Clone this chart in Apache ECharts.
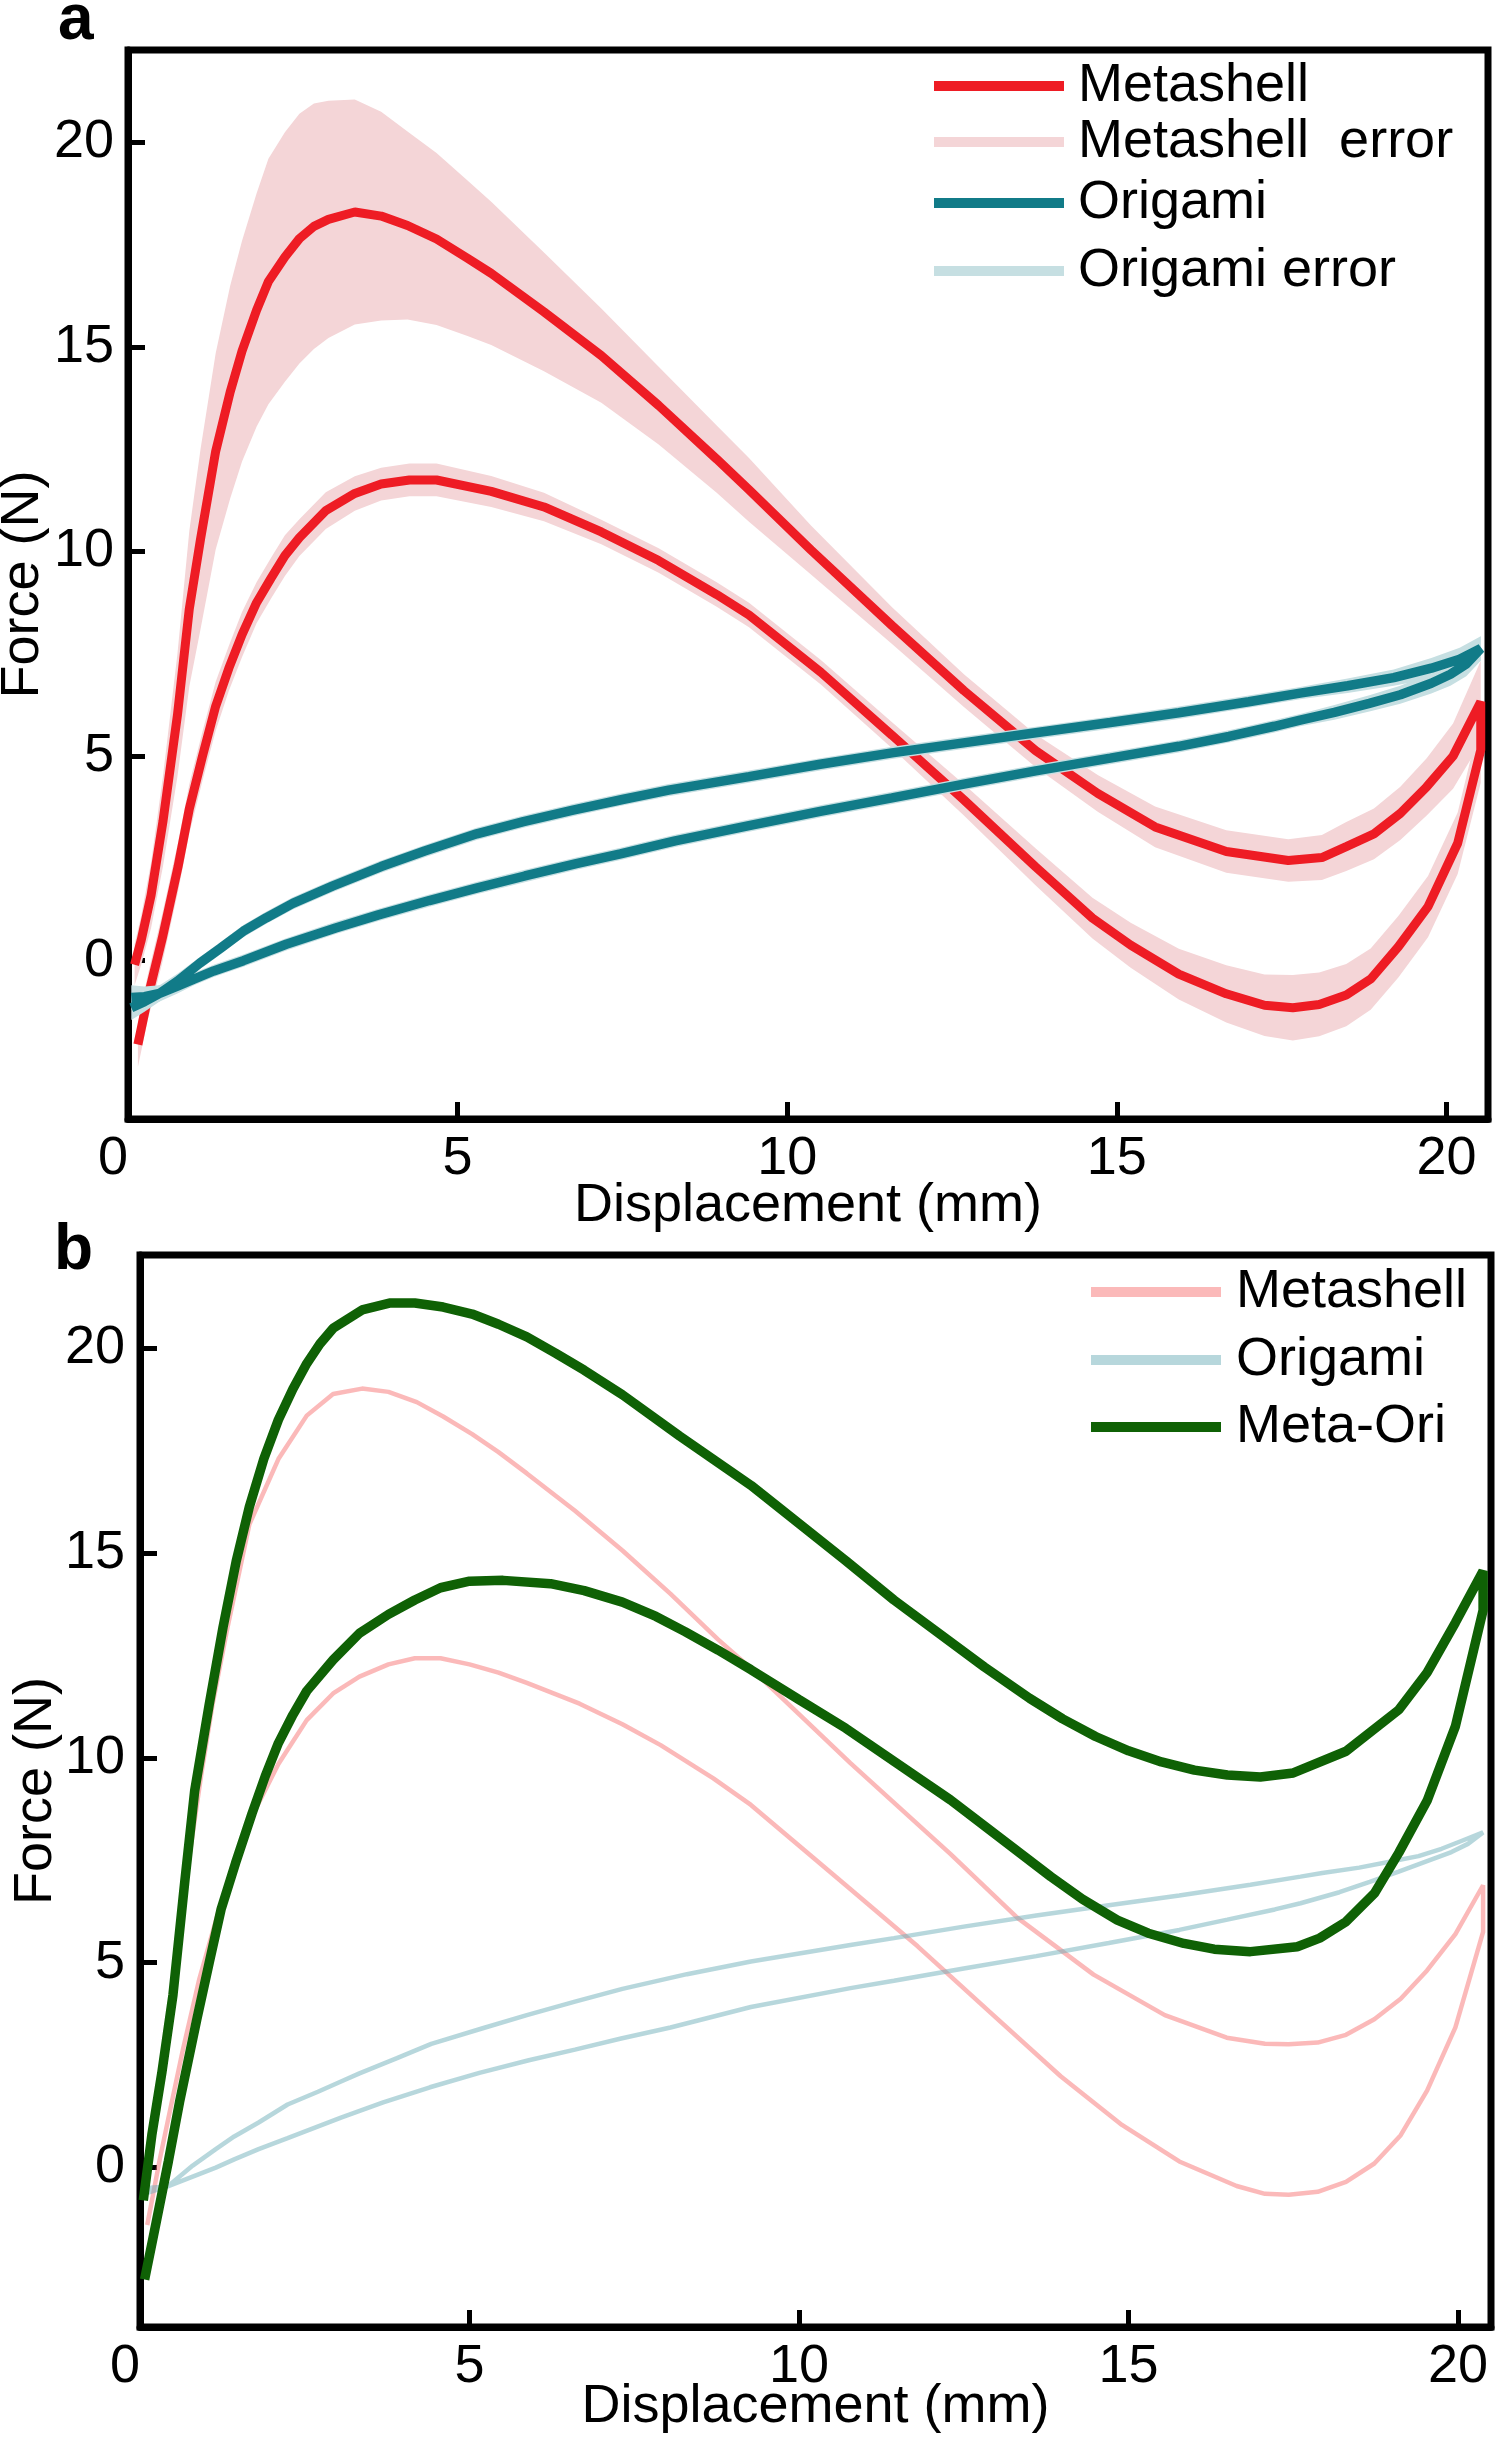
<!DOCTYPE html>
<html>
<head>
<meta charset="utf-8">
<title>Force - displacement</title>
<script src="https://cdn.jsdelivr.net/npm/echarts@6/dist/echarts.min.js"></script>
<style>
  html, body { margin: 0; padding: 0; background: #fff; }
  #chart { width: 1497px; height: 2437px; }
</style>
</head>
<body>
<div id="chart"></div>
<script>
// ---- panel a : Metashell (mean + error) ----
const aMetaLoadX = [0.1, 0.2, 0.35, 0.53, 0.75, 0.93, 1.1, 1.33, 1.55, 1.73, 1.95, 2.13, 2.38, 2.6, 2.82, 3.04, 3.44, 3.84, 4.24, 4.68, 5.15, 5.51, 6.31, 7.18, 8.05, 8.93, 9.42, 10.36, 11.59, 12.68, 13.77, 14.71, 15.58, 16.66, 17.6, 18.11, 18.48, 18.9, 19.3, 19.7, 20.1, 20.52];
const aMetaLoadF = [-0.1, 0.5, 1.6, 3.4, 6.0, 8.6, 10.3, 12.45, 13.9, 14.9, 15.9, 16.6, 17.2, 17.65, 17.95, 18.12, 18.3, 18.2, 17.97, 17.64, 17.17, 16.8, 15.86, 14.79, 13.57, 12.26, 11.51, 10.04, 8.19, 6.6, 5.13, 4.09, 3.27, 2.67, 2.45, 2.52, 2.79, 3.1, 3.6, 4.25, 5.0, 6.33];
const aMetaLoadErr = [0.5, 0.6, 0.8, 1.1, 1.5, 1.9, 2.2, 2.4, 2.6, 2.7, 2.85, 3.0, 3.05, 3.05, 3.0, 2.9, 2.75, 2.55, 2.3, 2.1, 1.9, 1.75, 1.45, 1.15, 0.95, 0.82, 0.78, 0.6, 0.45, 0.4, 0.4, 0.45, 0.5, 0.52, 0.52, 0.55, 0.6, 0.62, 0.65, 0.7, 0.8, 1.0];

const aMetaUnloadX = [0.15, 0.3, 0.52, 0.76, 0.93, 1.13, 1.33, 1.53, 1.73, 1.95, 2.17, 2.38, 2.6, 3.0, 3.44, 3.84, 4.27, 4.68, 5.51, 6.31, 7.18, 8.05, 8.93, 9.42, 10.51, 11.59, 12.68, 13.77, 14.63, 15.21, 15.94, 16.66, 17.24, 17.67, 18.07, 18.48, 18.85, 19.27, 19.72, 20.17, 20.52];
const aMetaUnloadF = [-2.05, -0.9, 0.55, 2.3, 3.71, 5.0, 6.22, 7.15, 7.97, 8.75, 9.35, 9.9, 10.34, 11.0, 11.42, 11.65, 11.75, 11.75, 11.47, 11.09, 10.48, 9.78, 8.95, 8.45, 7.05, 5.51, 3.93, 2.29, 1.04, 0.38, -0.33, -0.81, -1.09, -1.15, -1.07, -0.84, -0.45, 0.34, 1.32, 2.87, 5.15];
const aMetaUnloadErr = [0.55, 0.55, 0.6, 0.6, 0.6, 0.6, 0.6, 0.55, 0.55, 0.5, 0.5, 0.5, 0.45, 0.45, 0.42, 0.4, 0.4, 0.4, 0.38, 0.35, 0.3, 0.3, 0.3, 0.3, 0.3, 0.32, 0.38, 0.45, 0.5, 0.55, 0.62, 0.7, 0.75, 0.8, 0.78, 0.76, 0.75, 0.75, 0.75, 0.75, 0.8];

// ---- panel a : Origami (mean + error) ----
const aOriLoadX = [0.05, 0.25, 0.48, 0.75, 1.09, 1.4, 1.75, 2.1, 2.5, 3.1, 3.84, 4.5, 5.29, 6.0, 6.75, 7.5, 8.2, 9.42, 10.5, 11.59, 12.7, 13.77, 14.9, 15.94, 17.0, 17.78, 18.5, 19.2, 19.77, 20.2, 20.52];
const aOriLoadF = [-1.15, -1.0, -0.8, -0.5, -0.06, 0.3, 0.72, 1.05, 1.4, 1.82, 2.3, 2.68, 3.1, 3.4, 3.68, 3.94, 4.17, 4.5, 4.8, 5.08, 5.33, 5.57, 5.82, 6.06, 6.33, 6.54, 6.72, 6.92, 7.15, 7.37, 7.63];
const aOriLoadErr = [0.3, 0.25, 0.2, 0.18, 0.15, 0.15, 0.15, 0.15, 0.15, 0.15, 0.15, 0.15, 0.15, 0.15, 0.15, 0.15, 0.15, 0.15, 0.15, 0.15, 0.15, 0.15, 0.15, 0.15, 0.15, 0.15, 0.18, 0.2, 0.25, 0.28, 0.3];

const aOriUnloadX = [0.05, 0.25, 0.48, 0.75, 1.0, 1.3, 1.75, 2.4, 3.15, 3.8, 4.57, 5.3, 6.02, 6.8, 7.47, 8.3, 9.42, 10.5, 11.59, 12.7, 13.77, 14.9, 15.94, 16.7, 17.39, 17.78, 18.3, 18.83, 19.3, 19.77, 20.06, 20.3, 20.52];
const aOriUnloadF = [-0.9, -0.88, -0.8, -0.62, -0.45, -0.25, 0.0, 0.4, 0.8, 1.12, 1.47, 1.78, 2.07, 2.37, 2.61, 2.93, 3.3, 3.65, 3.98, 4.32, 4.64, 4.95, 5.24, 5.48, 5.73, 5.88, 6.07, 6.29, 6.5, 6.78, 7.0, 7.25, 7.63];
const aOriUnloadErr = [0.3, 0.25, 0.2, 0.18, 0.15, 0.15, 0.15, 0.15, 0.15, 0.15, 0.15, 0.15, 0.15, 0.15, 0.15, 0.15, 0.15, 0.15, 0.15, 0.15, 0.15, 0.15, 0.15, 0.15, 0.15, 0.15, 0.18, 0.2, 0.22, 0.25, 0.28, 0.3, 0.3];

// ---- panel b : Metashell, Origami, Meta-Ori ----
const bMetaLoadX = [0.07, 0.2, 0.35, 0.53, 0.75, 0.93, 1.1, 1.33, 1.66, 2.1, 2.53, 2.93, 3.37, 3.77, 4.2, 4.6, 5.04, 5.44, 5.87, 6.6, 7.32, 8.05, 8.77, 9.27, 10.78, 12.3, 13.31, 14.47, 15.55, 16.49, 17.07, 17.43, 17.87, 18.3, 18.73, 19.13, 19.53, 19.96, 20.38];
const bMetaLoadF = [-0.3, 1.2, 2.8, 4.9, 7.6, 9.6, 11.3, 13.2, 15.7, 17.29, 18.35, 18.88, 19.01, 18.93, 18.68, 18.33, 17.9, 17.46, 16.94, 16.03, 15.06, 14.0, 12.89, 12.18, 9.87, 7.65, 6.1, 4.71, 3.72, 3.17, 3.02, 3.01, 3.05, 3.24, 3.62, 4.12, 4.81, 5.7, 6.89];
const bMetaUnloadX = [0.11, 0.3, 0.45, 0.65, 0.9, 1.2, 1.5, 1.74, 2.1, 2.53, 2.93, 3.33, 3.77, 4.17, 4.56, 5.0, 5.44, 5.87, 6.67, 7.32, 7.9, 8.7, 9.27, 10.71, 11.8, 12.88, 13.97, 14.9, 15.77, 16.64, 17.07, 17.43, 17.87, 18.3, 18.73, 19.13, 19.53, 19.96, 20.38];
const bMetaUnloadF = [-1.4, 0.2, 1.35, 2.87, 4.6, 6.3, 7.7, 8.7, 9.85, 10.92, 11.57, 11.98, 12.28, 12.43, 12.43, 12.28, 12.08, 11.83, 11.32, 10.82, 10.31, 9.5, 8.85, 6.89, 5.4, 3.82, 2.23, 1.04, 0.15, -0.45, -0.64, -0.66, -0.59, -0.35, 0.1, 0.79, 1.88, 3.42, 5.75];

const bOriLoadX = [0.1, 0.42, 0.8, 1.15, 1.43, 1.8, 2.24, 2.7, 3.05, 3.33, 3.9, 4.42, 5.2, 5.87, 6.6, 7.32, 8.3, 9.27, 10.78, 11.44, 12.5, 13.6, 14.7, 15.77, 16.85, 17.61, 17.94, 18.5, 19.02, 19.4, 19.75, 20.05, 20.38];
const bOriLoadF = [-0.62, -0.46, 0.05, 0.45, 0.76, 1.1, 1.54, 1.85, 2.1, 2.3, 2.67, 3.02, 3.4, 3.72, 4.05, 4.36, 4.72, 5.03, 5.43, 5.6, 5.88, 6.15, 6.4, 6.64, 6.9, 7.1, 7.19, 7.32, 7.48, 7.6, 7.78, 7.97, 8.18];
const bOriUnloadX = [0.1, 0.42, 0.8, 1.15, 1.43, 1.8, 2.24, 3.05, 3.69, 4.4, 5.15, 5.9, 6.6, 7.3, 8.05, 9.27, 10.78, 11.44, 12.5, 13.6, 14.7, 15.77, 16.5, 17.22, 17.61, 18.2, 18.66, 19.1, 19.53, 19.9, 20.15, 20.38];
const bOriUnloadF = [-0.5, -0.46, -0.22, 0.0, 0.2, 0.45, 0.72, 1.22, 1.59, 1.96, 2.31, 2.62, 2.88, 3.15, 3.42, 3.92, 4.38, 4.56, 4.86, 5.16, 5.48, 5.8, 6.05, 6.3, 6.45, 6.72, 6.97, 7.22, 7.48, 7.7, 7.9, 8.15];

const bMixLoadX = [0.05, 0.18, 0.33, 0.5, 0.68, 0.83, 1.05, 1.26, 1.46, 1.66, 1.88, 2.1, 2.32, 2.53, 2.73, 2.93, 3.37, 3.8, 4.17, 4.6, 5.04, 5.44, 5.87, 6.31, 6.74, 7.32, 8.19, 9.27, 10.71, 11.44, 12.81, 13.5, 14.0, 14.5, 15.0, 15.5, 16.0, 16.5, 17.0, 17.5, 18.3, 19.1, 19.53, 19.96, 20.38];
const bMixLoadF = [-0.8, 0.8, 2.3, 4.21, 6.99, 9.2, 11.3, 13.19, 14.8, 16.13, 17.3, 18.25, 19.0, 19.62, 20.1, 20.48, 20.93, 21.1, 21.1, 21.0, 20.83, 20.58, 20.27, 19.87, 19.46, 18.86, 17.85, 16.65, 14.81, 13.85, 12.22, 11.45, 10.95, 10.52, 10.17, 9.9, 9.7, 9.58, 9.53, 9.63, 10.16, 11.17, 12.08, 13.3, 14.56];
const bMixUnloadX = [0.07, 0.25, 0.43, 0.6, 0.86, 1.05, 1.23, 1.45, 1.7, 1.9, 2.1, 2.32, 2.53, 2.93, 3.33, 3.77, 4.17, 4.56, 5.0, 5.51, 6.23, 6.74, 7.32, 7.83, 8.27, 8.77, 9.27, 10.0, 10.71, 12.3, 13.82, 14.3, 14.83, 15.3, 15.84, 16.3, 16.85, 17.56, 17.9, 18.3, 18.73, 19.1, 19.53, 19.96, 20.38];
const bMixUnloadF = [-2.73, -1.3, 0.15, 1.6, 3.6, 5.0, 6.3, 7.43, 8.64, 9.55, 10.36, 11.05, 11.63, 12.39, 13.04, 13.5, 13.85, 14.15, 14.31, 14.33, 14.25, 14.08, 13.8, 13.45, 13.08, 12.63, 12.15, 11.42, 10.72, 8.97, 7.1, 6.55, 6.04, 5.72, 5.47, 5.33, 5.27, 5.39, 5.6, 6.0, 6.69, 7.68, 8.95, 10.77, 13.6];

const yTicks = [0, 5, 10, 15, 20];
const xTicks = [0, 5, 10, 15, 20];

const FONT = '"Liberation Sans", Arial, sans-serif';
const RED = '#ee1c24';
const RED_ERR = '#f4d5d7';
const TEAL = '#117b88';
const TEAL_ERR = '#c6dfe2';
const PINK = 'rgba(247, 115, 115, 0.5)';
const BLUE = 'rgba(112, 176, 186, 0.5)';
const GREEN = '#0f6105';

// loading branch forward, unloading branch back -> one closed hysteresis loop
function loop(upX, upF, loX, loF) {
  const pts = upX.map((x, i) => [x, upF[i]]);
  for (let i = loX.length - 1; i >= 0; i--) {
    pts.push([loX[i], loF[i]]);
  }
  return pts;
}

// error band polygon (mean +/- err) built through the axis scales
function bandShape(api, xs, mid, err, color) {
  const pts = [];
  for (let i = 0; i < xs.length; i++) pts.push(api.coord([xs[i], mid[i] + err[i]]));
  for (let i = xs.length - 1; i >= 0; i--) pts.push(api.coord([xs[i], mid[i] - err[i]]));
  return { type: 'polygon', shape: { points: pts }, style: { fill: color } };
}

function bandSeries(name, color, branches, z) {
  return {
    type: 'custom',
    name: name,
    xAxisIndex: 0,
    yAxisIndex: 0,
    silent: true,
    z: z,
    itemStyle: { color: color },
    data: [[0, 0]],
    renderItem: (params, api) => ({
      type: 'group',
      children: branches.map(b => bandShape(api, b[0], b[1], b[2], color))
    })
  };
}

function lineSeries(name, data, color, width, axis, z) {
  return {
    type: 'line',
    name: name,
    xAxisIndex: axis,
    yAxisIndex: axis,
    data: data,
    showSymbol: false,
    symbol: 'none',
    smooth: false,
    z: z,
    itemStyle: { color: color },
    lineStyle: { color: color, width: width }
  };
}

const labelStyle = { fontSize: 54, fontFamily: FONT, color: '#000' };

function xAxisFor(idx, max, gap) {
  return {
    gridIndex: idx,
    type: 'value',
    min: 0,
    max: max,
    name: 'Displacement (mm)',
    nameLocation: 'middle',
    nameGap: gap,
    nameMoveOverlap: false,
    nameTextStyle: labelStyle,
    axisLine: { show: true, onZero: false, lineStyle: { color: '#000', width: 7 } },
    axisTick: { show: true, inside: true, length: 17, customValues: [5, 10, 15, 20], lineStyle: { color: '#000', width: 5 } },
    axisLabel: Object.assign({ margin: 13, customValues: xTicks, alignMinLabel: 'right' }, labelStyle),
    splitLine: { show: false }
  };
}

function yAxisFor(idx, min, max, margin, gap) {
  return {
    gridIndex: idx,
    type: 'value',
    min: min,
    max: max,
    name: 'Force (N)',
    nameLocation: 'middle',
    nameGap: gap,
    nameMoveOverlap: false,
    nameTextStyle: labelStyle,
    axisLine: { show: true, onZero: false, lineStyle: { color: '#000', width: 7 } },
    axisTick: { show: true, inside: true, length: 17, customValues: yTicks, lineStyle: { color: '#000', width: 5 } },
    axisLabel: Object.assign({ margin: margin, customValues: yTicks }, labelStyle),
    splitLine: { show: false }
  };
}

function legendAt(name, left, cy, gapText) {
  return {
    data: [name],
    left: left,
    top: cy - 27,
    orient: 'vertical',
    icon: 'rect',
    itemWidth: 130,
    itemHeight: 10,
    padding: 0,
    selectedMode: false,
    itemStyle: { borderWidth: 0 },
    lineStyle: { width: 0 },
    textStyle: { fontSize: 54, lineHeight: 54, fontFamily: FONT, color: '#000', padding: [0, 0, 0, gapText] }
  };
}

const chart = echarts.init(document.getElementById('chart'), null, { renderer: 'canvas' });

const option = {
  animation: false,
  backgroundColor: '#fff',
  grid: [
    { left: 128, top: 50, width: 1360, height: 1069, show: true, borderColor: '#000', borderWidth: 7, outerBoundsMode: 'none', containLabel: false },
    { left: 140, top: 1255, width: 1351, height: 1072, show: true, borderColor: '#000', borderWidth: 7, outerBoundsMode: 'none', containLabel: false }
  ],
  xAxis: [xAxisFor(0, 20.63, 60), xAxisFor(1, 20.5, 53)],
  yAxis: [yAxisFor(0, -3.87, 22.26, 14, 78), yAxisFor(1, -3.89, 22.27, 15, 77)],
  legend: [
    legendAt('Metashell', 934, 86, 9),
    legendAt('Metashell  error', 934, 142, 9),
    legendAt('Origami', 934, 203, 9),
    legendAt('Origami error', 934, 271, 9),
    legendAt('Metashell ', 1091, 1292, 10),
    legendAt('Origami ', 1091, 1360, 10),
    legendAt('Meta-Ori', 1091, 1427, 10)
  ],
  graphic: [
    { type: 'text', x: 58, y: 21, style: { text: 'a', font: 'bold 64px ' + FONT, fill: '#000', verticalAlign: 'middle' } },
    { type: 'text', x: 54, y: 1251, style: { text: 'b', font: 'bold 64px ' + FONT, fill: '#000', verticalAlign: 'middle' } }
  ],
  series: [
    bandSeries('Metashell  error', RED_ERR, [
      [aMetaLoadX, aMetaLoadF, aMetaLoadErr],
      [aMetaUnloadX, aMetaUnloadF, aMetaUnloadErr]
    ], 1),
    lineSeries('Metashell', loop(aMetaLoadX, aMetaLoadF, aMetaUnloadX, aMetaUnloadF), RED, 9, 0, 2),
    bandSeries('Origami error', TEAL_ERR, [
      [aOriLoadX, aOriLoadF, aOriLoadErr],
      [aOriUnloadX, aOriUnloadF, aOriUnloadErr]
    ], 3),
    lineSeries('Origami', loop(aOriLoadX, aOriLoadF, aOriUnloadX, aOriUnloadF), TEAL, 9.5, 0, 4),

    lineSeries('Metashell ', loop(bMetaLoadX, bMetaLoadF, bMetaUnloadX, bMetaUnloadF), PINK, 4.5, 1, 2),
    lineSeries('Origami ', loop(bOriLoadX, bOriLoadF, bOriUnloadX, bOriUnloadF), BLUE, 4.5, 1, 3),
    lineSeries('Meta-Ori', loop(bMixLoadX, bMixLoadF, bMixUnloadX, bMixUnloadF), GREEN, 9.5, 1, 4)
  ]
};

chart.setOption(option);
window.addEventListener('resize', () => chart.resize());
</script>
</body>
</html>
